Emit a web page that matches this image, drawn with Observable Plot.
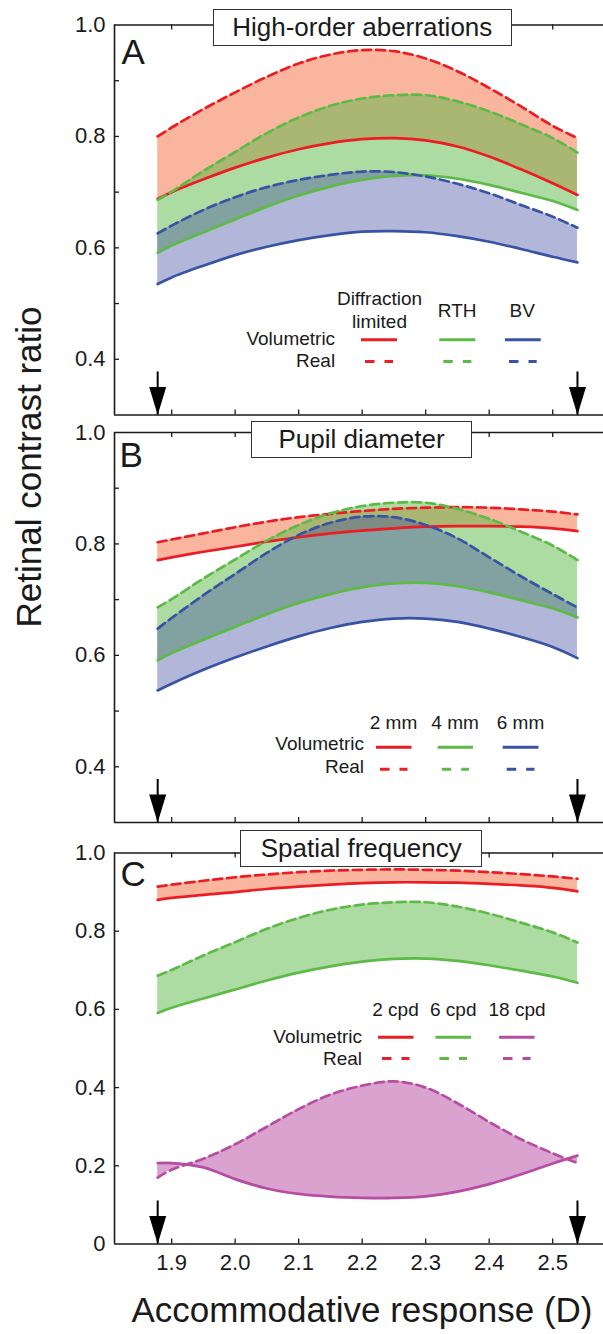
<!DOCTYPE html>
<html>
<head>
<meta charset="utf-8">
<script src="https://cdn.jsdelivr.net/npm/d3@7"></script>
<script src="https://cdn.jsdelivr.net/npm/@observablehq/plot@0.6"></script>
<style>
  body { margin: 0; background: #fff; }
  #wrap { position: relative; width: 603px; height: 1334px; overflow: hidden; background: #fff;
          font-family: "Liberation Sans", Arial, Helvetica, sans-serif; }
  .panel { position: absolute; left: 0; }
  .tbox { position: absolute; box-sizing: border-box; border: 1.5px solid #333; background: #fff; color: #1a1a1a;
          font-size: 26px; display: flex; align-items: center; justify-content: center; white-space: nowrap; }
</style>
</head>
<body>
<div id="wrap"></div>
<script>
// ---------------- data ----------------
const accom = [1.878, 1.9, 1.95, 2.0, 2.05, 2.1, 2.15, 2.2, 2.25, 2.3, 2.35, 2.4, 2.45, 2.5, 2.539];
const xTickValues = [1.9, 2.0, 2.1, 2.2, 2.3, 2.4, 2.5];
const arrowPositions = [1.878, 2.539];
const yLabelsAB = [0.4, 0.6, 0.8, 1.0];
const yMarksAB = [0.4, 0.5, 0.6, 0.7, 0.8, 0.9];
const yLabelsC = [0, 0.2, 0.4, 0.6, 0.8, 1.0];
const yMarksC = [0.2, 0.4, 0.6, 0.8];

// Panel A: high-order aberrations
const dlVolumetric  = [0.688, 0.700, 0.723, 0.744, 0.762, 0.777, 0.788, 0.795, 0.797, 0.793, 0.782, 0.764, 0.741, 0.716, 0.695];
const dlReal        = [0.800, 0.816, 0.849, 0.879, 0.907, 0.931, 0.947, 0.955, 0.953, 0.940, 0.917, 0.887, 0.854, 0.819, 0.797];
const rthVolumetric = [0.591, 0.604, 0.628, 0.651, 0.674, 0.694, 0.710, 0.722, 0.729, 0.730, 0.724, 0.713, 0.699, 0.684, 0.668];
const rthReal       = [0.686, 0.701, 0.738, 0.772, 0.806, 0.834, 0.855, 0.868, 0.874, 0.874, 0.863, 0.845, 0.822, 0.797, 0.771];
const bvVolumetric  = [0.535, 0.547, 0.568, 0.587, 0.602, 0.614, 0.623, 0.629, 0.630, 0.628, 0.621, 0.611, 0.598, 0.584, 0.574];
const bvReal        = [0.626, 0.640, 0.668, 0.691, 0.709, 0.722, 0.731, 0.737, 0.736, 0.728, 0.715, 0.698, 0.677, 0.656, 0.636];

// Panel B: pupil diameter
const mm2Volumetric = [0.771, 0.776, 0.786, 0.795, 0.804, 0.812, 0.819, 0.824, 0.828, 0.831, 0.832, 0.832, 0.831, 0.828, 0.823];
const mm2Real       = [0.803, 0.808, 0.819, 0.830, 0.840, 0.848, 0.854, 0.859, 0.863, 0.865, 0.866, 0.865, 0.862, 0.858, 0.853];
const mm4Volumetric = [0.591, 0.604, 0.628, 0.651, 0.674, 0.694, 0.710, 0.722, 0.729, 0.730, 0.724, 0.713, 0.699, 0.684, 0.668];
const mm4Real       = [0.686, 0.701, 0.738, 0.772, 0.806, 0.834, 0.855, 0.868, 0.874, 0.874, 0.863, 0.845, 0.822, 0.797, 0.771];
const mm6Volumetric = [0.537, 0.549, 0.574, 0.596, 0.616, 0.634, 0.649, 0.660, 0.666, 0.666, 0.660, 0.648, 0.633, 0.615, 0.595];
const mm6Real       = [0.648, 0.667, 0.708, 0.746, 0.784, 0.816, 0.838, 0.849, 0.848, 0.834, 0.810, 0.776, 0.742, 0.710, 0.686];

// Panel C: spatial frequency
const cpd2Volumetric  = [0.880, 0.885, 0.893, 0.900, 0.908, 0.914, 0.919, 0.923, 0.925, 0.925, 0.924, 0.921, 0.917, 0.911, 0.902];
const cpd2Real        = [0.914, 0.919, 0.929, 0.938, 0.945, 0.951, 0.955, 0.957, 0.958, 0.957, 0.955, 0.951, 0.946, 0.940, 0.934];
const cpd6Volumetric  = [0.591, 0.604, 0.628, 0.651, 0.674, 0.694, 0.710, 0.722, 0.729, 0.730, 0.724, 0.713, 0.699, 0.684, 0.668];
const cpd6Real        = [0.686, 0.701, 0.738, 0.772, 0.806, 0.834, 0.855, 0.868, 0.874, 0.874, 0.863, 0.845, 0.822, 0.797, 0.771];
const cpd18Volumetric = [0.207, 0.207, 0.196, 0.166, 0.142, 0.128, 0.121, 0.118, 0.118, 0.122, 0.134, 0.153, 0.178, 0.206, 0.226];
const cpd18Real       = [0.170, 0.190, 0.218, 0.255, 0.300, 0.345, 0.382, 0.405, 0.416, 0.400, 0.360, 0.312, 0.268, 0.232, 0.207];

// ---------------- styling ----------------
const FONT = '"Liberation Sans", Arial, Helvetica, sans-serif';
const INK = "#1a1a1a";
const RED = {line: "#ec1c24", fill: "#f15a29", op: 0.45};
const GREEN = {line: "#5dba47", fill: "#5cb946", op: 0.5};
const BLUE = {line: "#3953a4", fill: "#3f4ba0", op: 0.4};
const MAGENTA = {line: "#b64da2", fill: "#b5489f", op: 0.5};

const W = 603, FRAME_LEFT = 114;
const xDomain = [1.81, 2.58];

const arrowHead = {
  draw(ctx) { ctx.moveTo(0, 0); ctx.lineTo(-8.5, -28); ctx.lineTo(8.5, -28); ctx.closePath(); }
};

function makePanel(cfg) {
  const {svgTop, frameTop, innerH, mBottom, yDomain, yLabels, yMarks, bands, letter, letterDx, letterDy, legend, bottomAxis, extra = []} = cfg;
  const kx = (W - FRAME_LEFT) / (xDomain[1] - xDomain[0]);
  const ky = innerH / (yDomain[1] - yDomain[0]);
  const X = px => xDomain[0] + (px - FRAME_LEFT) / kx;
  const Y = py => yDomain[1] - (py - frameTop) / ky;
  const frameBottom = frameTop + innerH;
  const mTop = frameTop - svgTop;
  const marks = [];

  for (const b of bands) {
    const rows = accom.map((x, i) => ({x, lo: b.vol[i], hi: b.real[i]}));
    marks.push(Plot.areaY(rows, {x: "x", y1: "lo", y2: "hi", fill: b.c.fill, fillOpacity: b.c.op, curve: "catmull-rom"}));
  }
  for (const b of bands) {
    const rows = accom.map((x, i) => ({x, lo: b.vol[i], hi: b.real[i]}));
    marks.push(Plot.lineY(rows, {x: "x", y: "lo", stroke: b.c.line, strokeWidth: 2.7, curve: "catmull-rom"}));
    marks.push(Plot.lineY(rows, {x: "x", y: "hi", stroke: b.c.line, strokeWidth: 2.7, strokeDasharray: "9,5", curve: "catmull-rom"}));
  }
  marks.push(Plot.ruleX([xDomain[0]], {stroke: INK, strokeWidth: 1.6}));
  marks.push(Plot.ruleY([yDomain[0], yDomain[1]], {stroke: INK, strokeWidth: 1.6}));
  marks.push(Plot.ruleY(yMarks, {x1: xDomain[0], x2: X(FRAME_LEFT + 5), stroke: INK, strokeWidth: 1.3}));
  marks.push(Plot.ruleX(xTickValues, {y1: yDomain[0], y2: Y(frameBottom - 5), stroke: INK, strokeWidth: 1.3}));
  marks.push(Plot.ruleX(xTickValues, {y1: yDomain[1], y2: Y(frameTop + 5), stroke: INK, strokeWidth: 1.3}));
  marks.push(Plot.axisY(yLabels, {tickSize: 0, tickPadding: 9, fontSize: 22, color: INK, label: null,
    tickFormat: d => d === 0 ? "0" : d.toFixed(1)}));
  if (bottomAxis) {
    marks.push(Plot.axisX(xTickValues, {tickSize: 0, tickPadding: 10, fontSize: 22, color: INK, label: null,
      tickFormat: d3.format(".1f")}));
  }
  marks.push(Plot.ruleX(arrowPositions, {y1: yDomain[0], y2: Y(frameBottom - 43), stroke: "#000", strokeWidth: 2}));
  marks.push(Plot.dot(arrowPositions, {x: d => d, y: yDomain[0], symbol: arrowHead, fill: "#000", stroke: "none"}));
  marks.push(Plot.text([letter], {frameAnchor: "top-left", dx: letterDx, dy: letterDy, fontSize: 35, fill: INK,
    textAnchor: "start", lineAnchor: "middle"}));
  marks.push(Plot.text(legend.headers, {x: d => X(d.px), y: d => Y(d.py), text: "t", fontSize: 19, fill: INK, lineAnchor: "middle"}));
  marks.push(Plot.text(legend.rows, {x: d => X(d.px), y: d => Y(d.py), text: "t", fontSize: 19, fill: INK, lineAnchor: "middle", textAnchor: "end"}));
  for (const s of legend.samples) {
    marks.push(Plot.ruleY([Y(s.py)], {x1: X(s.x1), x2: X(s.x2), stroke: s.color, strokeWidth: 3,
      strokeDasharray: s.dashed ? "9.5,10" : null}));
  }
  for (const e of extra) marks.push(e);

  const svg = Plot.plot({
    width: W,
    height: mTop + innerH + mBottom,
    marginTop: mTop, marginBottom: mBottom, marginLeft: FRAME_LEFT, marginRight: 0,
    x: {domain: xDomain, axis: null},
    y: {domain: yDomain, axis: null},
    style: {background: "transparent", overflow: "visible", fontFamily: FONT, color: INK},
    marks
  });
  svg.classList.add("panel");
  svg.style.top = svgTop + "px";
  svg.style.position = "absolute";
  return svg;
}

function samples(y1, y2, spans, colors) {
  const out = [];
  spans.forEach((s, i) => {
    out.push({py: y1, x1: s[0], x2: s[1], color: colors[i], dashed: false});
    out.push({py: y2, x1: s[0] + 4, x2: s[1] - 4, color: colors[i], dashed: true});
  });
  return out;
}

const wrap = document.getElementById("wrap");

wrap.appendChild(makePanel({
  svgTop: 0, frameTop: 24.5, innerH: 390, mBottom: 10.5,
  yDomain: [0.3, 1.0], yLabels: yLabelsAB, yMarks: yMarksAB,
  bands: [{vol: dlVolumetric, real: dlReal, c: RED}, {vol: rthVolumetric, real: rthReal, c: GREEN}, {vol: bvVolumetric, real: bvReal, c: BLUE}],
  letter: "A", letterDx: 7, letterDy: 27.5,
  legend: {
    headers: [{t: "Diffraction", px: 379, py: 298.3}, {t: "limited", px: 379, py: 321.7}, {t: "RTH", px: 456.7, py: 310}, {t: "BV", px: 521.7, py: 310}],
    rows: [{t: "Volumetric", px: 334.6, py: 338.3}, {t: "Real", px: 334.6, py: 360}],
    samples: samples(339.3, 361, [[361, 397], [439.3, 475.3], [505, 540.7]], [RED.line, GREEN.line, BLUE.line])
  }
}));

wrap.appendChild(makePanel({
  svgTop: 408, frameTop: 432, innerH: 390, mBottom: 10,
  yDomain: [0.3, 1.0], yLabels: yLabelsAB, yMarks: yMarksAB,
  bands: [{vol: mm2Volumetric, real: mm2Real, c: RED}, {vol: mm4Volumetric, real: mm4Real, c: GREEN}, {vol: mm6Volumetric, real: mm6Real, c: BLUE}],
  letter: "B", letterDx: 5, letterDy: 23,
  legend: {
    headers: [{t: "2 mm", px: 393, py: 722.7}, {t: "4 mm", px: 454.6, py: 722.7}, {t: "6 mm", px: 520, py: 722.7}],
    rows: [{t: "Volumetric", px: 363.5, py: 743.3}, {t: "Real", px: 363.5, py: 766.7}],
    samples: samples(746.7, 768.7, [[376, 411.5], [437.7, 473], [502.7, 538.5]], [RED.line, GREEN.line, BLUE.line])
  },
  extra: [Plot.text(["Retinal contrast ratio"], {frameAnchor: "left", dx: -85, rotate: -90, fontSize: 35, fill: INK, lineAnchor: "middle"})]
}));

wrap.appendChild(makePanel({
  svgTop: 828, frameTop: 852.5, innerH: 391, mBottom: 90.5,
  yDomain: [0, 1.0], yLabels: yLabelsC, yMarks: yMarksC,
  bands: [{vol: cpd2Volumetric, real: cpd2Real, c: RED}, {vol: cpd6Volumetric, real: cpd6Real, c: GREEN}, {vol: cpd18Volumetric, real: cpd18Real, c: MAGENTA}],
  letter: "C", letterDx: 6, letterDy: 22,
  bottomAxis: true,
  legend: {
    headers: [{t: "2 cpd", px: 395, py: 1009}, {t: "6 cpd", px: 452.7, py: 1009}, {t: "18 cpd", px: 516.5, py: 1009}],
    rows: [{t: "Volumetric", px: 361.5, py: 1036}, {t: "Real", px: 361.5, py: 1058}],
    samples: samples(1036.7, 1058, [[378, 413.5], [435.4, 471], [499, 534.6]], [RED.line, GREEN.line, MAGENTA.line])
  },
  extra: [Plot.text(["Accommodative response (D)"], {frameAnchor: "bottom", dx: 3, dy: 66.5, fontSize: 35, fill: INK, lineAnchor: "middle"})]
}));

const titleBoxes = [
  {t: "High-order aberrations", l: 213, top: 9.3, w: 298.5, h: 36.4},
  {t: "Pupil diameter", l: 250.8, top: 420.7, w: 221.5, h: 37.6},
  {t: "Spatial frequency", l: 240.4, top: 830, w: 241.6, h: 37.3}
];
for (const b of titleBoxes) {
  const d = document.createElement("div");
  d.className = "tbox";
  d.textContent = b.t;
  Object.assign(d.style, {left: b.l + "px", top: b.top + "px", width: b.w + "px", height: b.h + "px"});
  wrap.appendChild(d);
}
</script>
</body>
</html>
